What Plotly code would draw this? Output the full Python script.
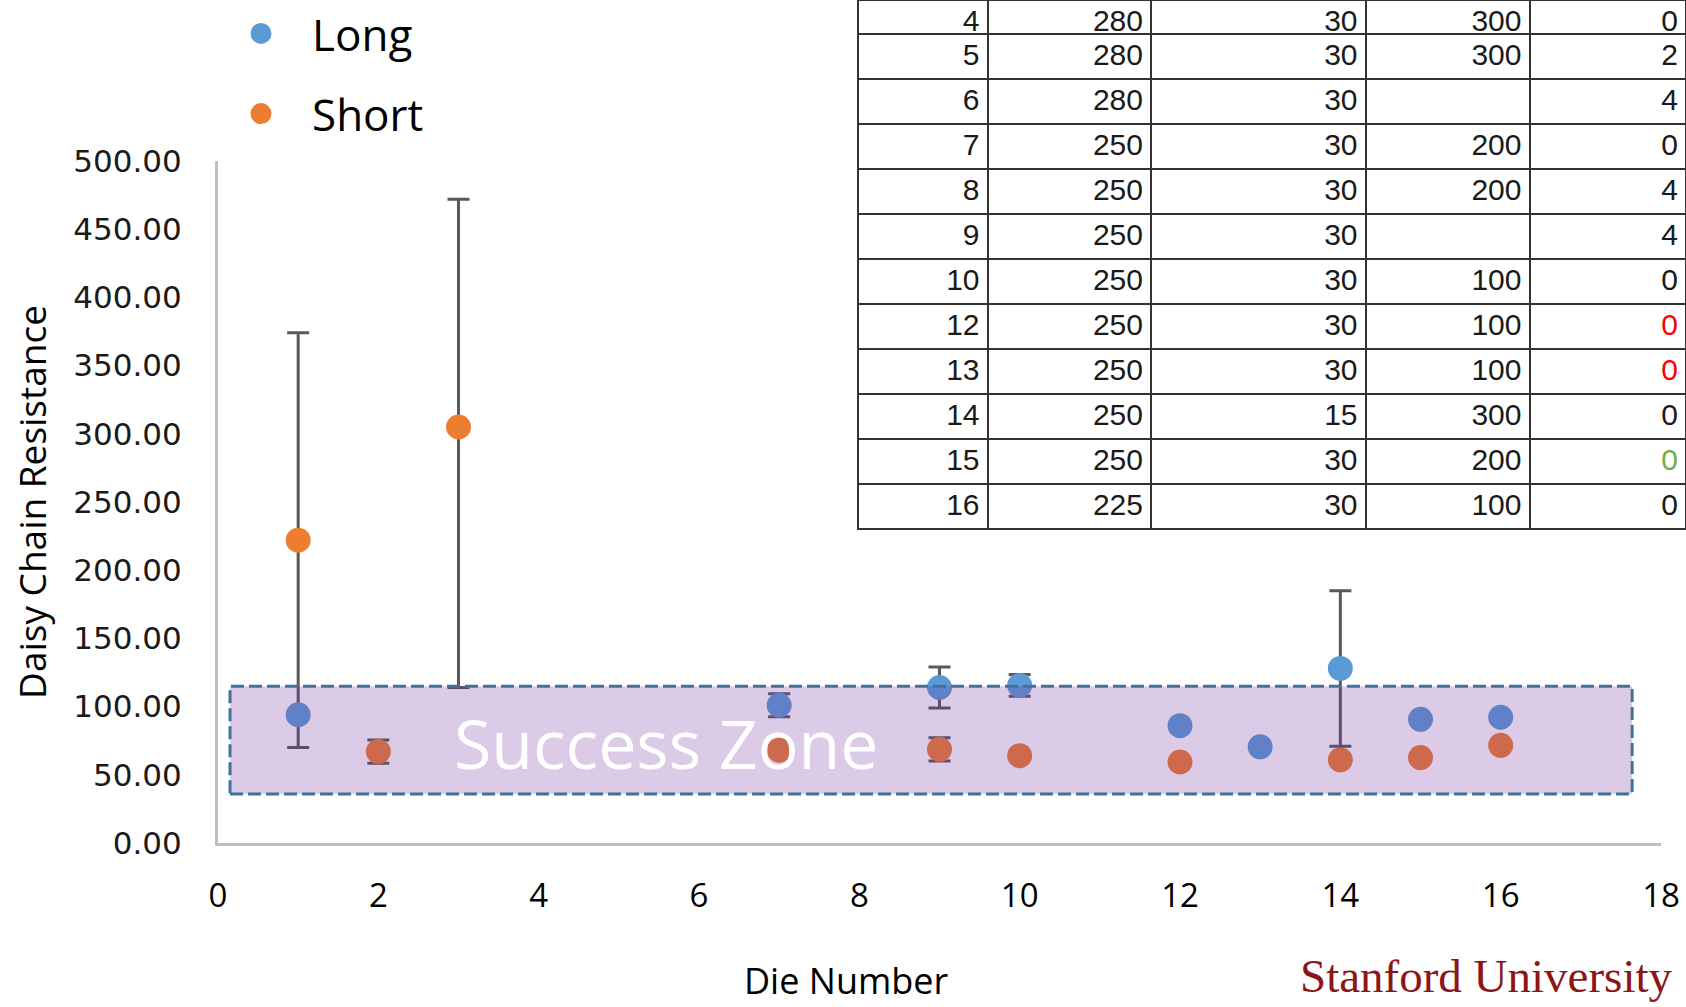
import plotly.graph_objects as go

# ---------------- data ----------------
long_dies = [1, 7, 9, 10, 12, 13, 14, 15, 16]
long_vals = [94, 101, 114, 115.5, 86, 70.5, 128, 90.7, 92.2]
long_err = [None, 8.5, 15, 8, None, None, 57, None, None]

short_dies = [1, 2, 3, 7, 9, 10, 12, 14, 15, 16]
short_vals = [222, 67, 305, 68, 68.7, 64, 59.4, 61, 62.6, 71.6]
short_err_plus = [152, 8.5, 167, None, 8.5, None, None, None, None, None]
short_err_minus = [152, 8.5, 191, None, 8.5, None, None, None, None, None]

x_ticks = list(range(0, 19, 2))
y_ticks = list(range(0, 501, 50))

tbl_die = ["4", "5", "6", "7", "8", "9", "10", "12", "13", "14", "15", "16"]
tbl_c2 = ["280", "280", "280", "250", "250", "250", "250", "250", "250", "250", "250", "225"]
tbl_c3 = ["30", "30", "30", "30", "30", "30", "30", "30", "30", "15", "30", "30"]
tbl_c4 = ["300", "300", "", "200", "200", "", "100", "100", "100", "300", "200", "100"]
tbl_c5 = ["0", "2", "4", "0", "4", "4", "0", "0", "0", "0", "0", "0"]
tbl_c5_color = ["#1a1a1a"] * 7 + ["#ff0000", "#ff0000", "#1a1a1a", "#70ad47", "#1a1a1a"]

zone_x = [0.15, 17.64]
zone_y = [36, 115]

BLUE = "#5b9bd5"
ORANGE = "#ed7d31"
ERR = "#595959"
SANS = "Open Sans"

fig = go.Figure()

fig.add_trace(go.Scatter(
    x=short_dies, y=short_vals, mode="markers", name="Short",
    marker=dict(color=ORANGE, size=20, line=dict(color=ORANGE, width=5)),
    error_y=dict(type="data", symmetric=False, array=short_err_plus,
                 arrayminus=short_err_minus, color=ERR, thickness=3, width=11),
    legendgroup="short", legendrank=2,
))
fig.add_trace(go.Scatter(
    x=long_dies, y=long_vals, mode="markers", name="Long",
    marker=dict(color=BLUE, size=20, line=dict(color=BLUE, width=5)),
    error_y=dict(type="data", array=long_err, color=ERR, thickness=3, width=11),
    legendgroup="long", legendrank=1,
))

# table (top rows of the process table)
hdr_vals = [[tbl_die[0]], [tbl_c2[0]], [tbl_c3[0]], [tbl_c4[0]], [tbl_c5[0]]]
cell_vals = [tbl_die[1:], tbl_c2[1:], tbl_c3[1:], tbl_c4[1:], tbl_c5[1:]]
font_tbl = dict(family="Liberation Sans, Arial", size=30, color="#1a1a1a")
fig.add_trace(go.Table(
    domain=dict(x=[(858 - 218) / 1468, 1.0], y=[(843 - 530) / 843, 1.0]),
    columnwidth=[129.5, 163.5, 214.5, 164, 156.5],
    header=dict(values=hdr_vals, height=34, align="right",
                fill=dict(color="white"), line=dict(color="#333333", width=2),
                font=font_tbl),
    cells=dict(values=cell_vals, height=45, align="right",
               fill=dict(color="white"), line=dict(color="#333333", width=2),
               font=dict(family="Liberation Sans, Arial", size=30,
                         color=[["#1a1a1a"] * 11] * 4 + [tbl_c5_color[1:]])),
))

fig.add_shape(type="rect", xref="x", yref="y",
              x0=zone_x[0], x1=zone_x[1], y0=zone_y[0], y1=zone_y[1],
              fillcolor="rgba(112,48,160,0.25)",
              line=dict(color="#41719c", width=3, dash="13px,5px"),
              layer="above")

fig.add_annotation(x=5.59, y=74, xref="x", yref="y", text="Success Zone",
                   showarrow=False, font=dict(family=SANS, size=68, color="white"))

fig.add_annotation(x=(846 - 218) / 1468, y=(843 - 980) / 843, xref="paper", yref="paper",
                   text="Die Number", showarrow=False, xanchor="center", yanchor="middle",
                   font=dict(family=SANS, size=36, color="#000000"))
fig.add_annotation(x=(1298 - 218) / 1468, y=(843 - 976) / 843, xref="paper", yref="paper",
                   text="Stanford University", showarrow=False, xanchor="left", yanchor="middle",
                   font=dict(family="Liberation Serif, DejaVu Serif", size=47, color="#8c1515"))

fig.update_layout(
    width=1686, height=1007,
    margin=dict(l=218, r=0, t=0, b=164, pad=0, autoexpand=False),
    paper_bgcolor="white", plot_bgcolor="white",
    showlegend=True,
    legend=dict(x=(210 - 218) / 1468, xanchor="left", y=1.002, yanchor="top",
                font=dict(family=SANS, size=44, color="#000000"),
                itemwidth=92, traceorder="grouped", tracegroupgap=20,
                bgcolor="rgba(0,0,0,0)"),
    xaxis=dict(domain=[0, (1661 - 218) / 1468], range=[0, 18], tickvals=x_ticks,
               showgrid=False, zeroline=False, showline=True, linecolor="#bfbfbf",
               linewidth=3, ticks="", ticklabelstandoff=21, automargin=False,
               tickfont=dict(family=SANS, size=33, color="#000000")),
    yaxis=dict(domain=[0, (843 - 161) / 843], range=[0, 500], tickvals=y_ticks,
               tickformat=".2f", showgrid=False, zeroline=False, showline=True,
               linecolor="#bfbfbf", linewidth=3, ticks="", ticklabelstandoff=27,
               automargin=False,
               tickfont=dict(family="DejaVu Sans", size=31, color="#1a1a1a"),
               title=dict(text="Daisy Chain Resistance", standoff=16,
                          font=dict(family=SANS, size=37, color="#000000"))),
)

fig.write_html("out.html", config={"displayModeBar": False},
               post_script="document.body.style.margin='0';")
